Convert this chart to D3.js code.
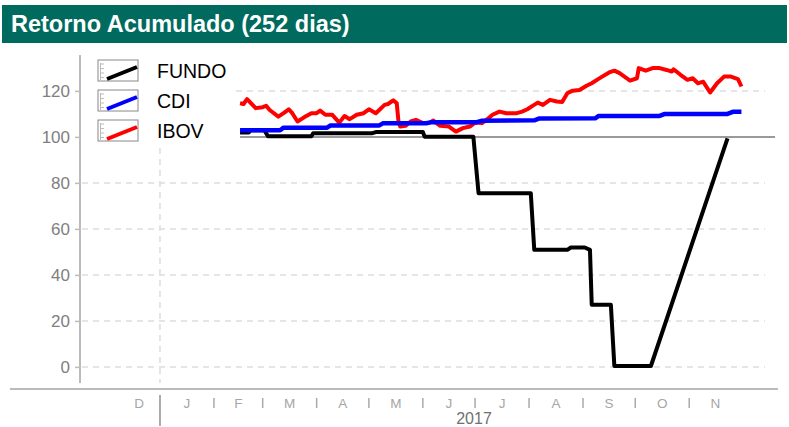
<!DOCTYPE html>
<html>
<head>
<meta charset="utf-8">
<script src="https://cdn.jsdelivr.net/npm/d3@7"></script>
<style>
  body { margin: 0; background: #fff; }
  svg { display: block; font-family: "Liberation Sans", Arial, sans-serif; }
</style>
</head>
<body>
<svg id="chart" width="789" height="427"></svg>
<script>
// Accumulated return, base 100
const fundo = [
  ["2017-02-16", 101.9], ["2017-02-21", 101.9], ["2017-02-22", 102.9], ["2017-03-02", 102.9],
  ["2017-03-04", 100.3], ["2017-03-29", 100.3], ["2017-03-30", 101.6], ["2017-05-03", 101.6],
  ["2017-05-05", 102.1], ["2017-06-01", 102.1], ["2017-06-02", 100.1], ["2017-06-30", 100.1],
  ["2017-07-03", 75.5], ["2017-08-02", 75.5], ["2017-08-04", 50.9], ["2017-08-23", 50.9],
  ["2017-08-25", 51.9], ["2017-09-02", 51.9], ["2017-09-05", 50.9], ["2017-09-06", 27.0],
  ["2017-09-17", 27.0], ["2017-09-19", 0.4], ["2017-10-10", 0.4], ["2017-11-23", 99.4]
];

const cdi = [
  ["2017-02-16", 102.9], ["2017-03-11", 102.9], ["2017-03-13", 104.0], ["2017-04-07", 104.0],
  ["2017-04-09", 105.0], ["2017-05-07", 105.0], ["2017-05-09", 105.9], ["2017-06-03", 105.9],
  ["2017-06-06", 106.4], ["2017-07-02", 106.4], ["2017-07-05", 107.0], ["2017-08-04", 107.2],
  ["2017-08-07", 108.0], ["2017-09-08", 108.1], ["2017-09-10", 109.1], ["2017-10-15", 109.1],
  ["2017-10-18", 110.0], ["2017-11-23", 110.0], ["2017-11-26", 110.9], ["2017-12-01", 110.9]
];

const ibov = [
  ["2017-02-16", 114.6], ["2017-02-18", 114.3], ["2017-02-20", 116.4], ["2017-02-25", 112.5],
  ["2017-03-01", 112.9], ["2017-03-03", 113.5], ["2017-03-05", 111.7], ["2017-03-10", 108.8],
  ["2017-03-13", 110.3], ["2017-03-16", 112.0], ["2017-03-18", 110.3], ["2017-03-21", 106.7],
  ["2017-03-25", 108.6], ["2017-03-29", 110.3], ["2017-04-01", 110.3], ["2017-04-03", 111.4],
  ["2017-04-06", 109.6], ["2017-04-10", 109.6], ["2017-04-14", 106.2], ["2017-04-17", 109.1],
  ["2017-04-20", 107.7], ["2017-04-24", 109.6], ["2017-04-28", 110.3], ["2017-05-01", 112.0],
  ["2017-05-05", 110.3], ["2017-05-10", 113.9], ["2017-05-12", 114.3], ["2017-05-15", 115.9],
  ["2017-05-17", 114.6], ["2017-05-18", 106.7], ["2017-05-19", 104.5], ["2017-05-22", 104.8],
  ["2017-05-25", 106.7], ["2017-05-28", 107.4], ["2017-06-01", 106.0], ["2017-06-05", 106.2],
  ["2017-06-07", 107.1], ["2017-06-11", 104.8], ["2017-06-16", 104.5], ["2017-06-20", 102.3],
  ["2017-06-24", 103.8], ["2017-06-28", 104.5], ["2017-07-01", 106.2], ["2017-07-05", 106.0],
  ["2017-07-08", 107.7], ["2017-07-11", 109.6], ["2017-07-15", 111.0], ["2017-07-19", 110.3],
  ["2017-07-25", 110.3], ["2017-07-28", 111.0], ["2017-07-31", 112.0], ["2017-08-03", 113.5],
  ["2017-08-06", 114.9], ["2017-08-09", 113.9], ["2017-08-13", 116.1], ["2017-08-17", 115.4],
  ["2017-08-20", 115.2], ["2017-08-23", 119.0], ["2017-08-26", 120.1], ["2017-08-30", 120.4],
  ["2017-09-03", 122.2], ["2017-09-06", 123.3], ["2017-09-09", 124.8], ["2017-09-12", 126.2],
  ["2017-09-16", 128.0], ["2017-09-19", 128.8], ["2017-09-22", 127.7], ["2017-09-28", 124.5],
  ["2017-10-02", 125.5], ["2017-10-03", 129.9], ["2017-10-07", 128.8], ["2017-10-11", 129.9],
  ["2017-10-15", 129.9], ["2017-10-19", 129.1], ["2017-10-22", 128.4], ["2017-10-23", 129.4],
  ["2017-10-27", 127.0], ["2017-10-31", 124.8], ["2017-11-03", 125.5], ["2017-11-06", 123.3],
  ["2017-11-09", 124.0], ["2017-11-13", 119.3], ["2017-11-17", 123.3], ["2017-11-21", 126.2],
  ["2017-11-25", 126.2], ["2017-11-29", 125.1], ["2017-12-01", 121.9]
];

const seriesNames = ["FUNDO", "CDI", "IBOV"];
const seriesColors = ["#000000", "#0000ff", "#ff0000"];
const yTicks = [0, 20, 40, 60, 80, 100, 120];
const monthLabels = ["D", "J", "F", "M", "A", "M", "J", "J", "A", "S", "O", "N"];
const yearLabel = "2017";
const title = "Retorno Acumulado (252 dias)";

const parse = d3.utcParse("%Y-%m-%d");
const toPoints = arr => arr.map(([d, v]) => ({ date: parse(d), value: v }));
const series = [toPoints(fundo), toPoints(cdi), toPoints(ibov)];

const svg = d3.select("#chart");

const x = d3.scaleUtc()
  .domain([new Date(Date.UTC(2016, 11, 1)), new Date(Date.UTC(2017, 11, 22))])
  .range([106, 778]);
const y = d3.scaleLinear().domain([-9.6, 135.6]).range([389, 55]);

// Title band
svg.append("rect").attr("x", 2).attr("y", 5).attr("width", 785).attr("height", 38)
  .attr("fill", "#006a5e");
svg.append("text").attr("x", 11).attr("y", 32)
  .attr("fill", "#fff").attr("font-weight", "bold").attr("font-size", 23.5)
  .text(title);

// Dashed horizontal grid
const grid = svg.append("g");
grid.selectAll("line.h").data(yTicks.filter(v => v !== 100)).join("line")
  .attr("x1", 82).attr("x2", 765)
  .attr("y1", d => y(d)).attr("y2", d => y(d))
  .attr("stroke", "#dddddd").attr("stroke-width", 1.5).attr("stroke-dasharray", "6,5");

// Year boundary dashed vertical
const yearStart = new Date(Date.UTC(2017, 0, 1));
grid.append("line")
  .attr("x1", x(yearStart)).attr("x2", x(yearStart)).attr("y1", 148).attr("y2", 383)
  .attr("stroke", "#dddddd").attr("stroke-width", 1.5).attr("stroke-dasharray", "6,5");

// Base 100 reference
const firstDate = series[0][0].date;
svg.append("line")
  .attr("x1", x(firstDate)).attr("x2", 775)
  .attr("y1", y(100)).attr("y2", y(100))
  .attr("stroke", "#9a9a9a").attr("stroke-width", 2);

// Y axis
const yAxis = svg.append("g").attr("transform", "translate(80,0)")
  .call(d3.axisLeft(y).tickValues(yTicks).tickSize(5).tickPadding(5));
yAxis.select(".domain").remove();
yAxis.selectAll(".tick line").attr("stroke", "#bbbbbb").attr("stroke-width", 1.5);
yAxis.selectAll(".tick text").attr("fill", "#808080").attr("font-size", 17)
  .attr("font-family", "'Liberation Sans', Arial, sans-serif");
svg.append("line").attr("x1", 80).attr("x2", 80).attr("y1", 55).attr("y2", 383)
  .attr("stroke", "#bbbbbb").attr("stroke-width", 2);

// Bottom axis line
svg.append("line").attr("x1", 10).attr("x2", 778).attr("y1", 389).attr("y2", 389)
  .attr("stroke", "#bbbbbb").attr("stroke-width", 2);

// Month labels and separators
const months = d3.utcMonth.range(new Date(Date.UTC(2016, 11, 1)), new Date(Date.UTC(2017, 11, 1)));
const xAxis = svg.append("g");
xAxis.selectAll("text.m").data(months).join("text")
  .attr("x", (d, i) => {
    const s = i === 0 ? new Date(Date.UTC(2016, 11, 8)) : d;
    return (x(s) + x(d3.utcMonth.offset(d, 1))) / 2;
  })
  .attr("y", 408).attr("text-anchor", "middle")
  .attr("fill", "#a6a6a6").attr("font-size", 13.5)
  .text((d, i) => monthLabels[i]);
xAxis.selectAll("line.sep").data(months.slice(2)).join("line")
  .attr("x1", d => x(d)).attr("x2", d => x(d)).attr("y1", 398).attr("y2", 408)
  .attr("stroke", "#aaaaaa").attr("stroke-width", 1.5);
xAxis.append("line")
  .attr("x1", x(yearStart)).attr("x2", x(yearStart)).attr("y1", 395).attr("y2", 426)
  .attr("stroke", "#aaaaaa").attr("stroke-width", 2);
xAxis.append("text").attr("x", 474).attr("y", 424).attr("text-anchor", "middle")
  .attr("fill", "#707070").attr("font-size", 16).text(yearLabel);

// Series
const line = d3.line().x(d => x(d.date)).y(d => y(d.value));
const drawOrder = [0, 2, 1];
const widths = [4, 4.5, 4];
svg.append("g").selectAll("path").data(drawOrder).join("path")
  .attr("d", i => line(series[i]))
  .attr("fill", "none")
  .attr("stroke", i => seriesColors[i])
  .attr("stroke-width", i => widths[i])
  .attr("stroke-linejoin", "round");

// Legend
const legend = svg.append("g");
legend.append("rect").attr("x", 82).attr("y", 52).attr("width", 153).attr("height", 94).attr("fill", "#fff");
seriesNames.forEach((name, i) => {
  const top = 60 + i * 30, left = 98, w = 40, h = 21;
  const g = legend.append("g");
  g.append("rect").attr("x", left).attr("y", top).attr("width", w).attr("height", h)
    .attr("fill", "#fff").attr("stroke", "#888").attr("stroke-width", 1);
  g.append("line").attr("x1", left + 2.5).attr("x2", left + 2.5).attr("y1", top + 3).attr("y2", top + h - 1)
    .attr("stroke", "#bbb").attr("stroke-width", 1);
  [0, 1, 2, 3].forEach(k => {
    g.append("line").attr("x1", left + 2.5).attr("x2", left + 6)
      .attr("y1", top + 4 + k * 4.5).attr("y2", top + 4 + k * 4.5)
      .attr("stroke", "#bbb").attr("stroke-width", 1);
  });
  g.append("line").attr("x1", left + 9).attr("y1", top + h - 2)
    .attr("x2", left + w - 1).attr("y2", top + 7)
    .attr("stroke", seriesColors[i]).attr("stroke-width", 4);
  g.append("text").attr("x", 157).attr("y", top + 18)
    .attr("fill", "#000").attr("font-size", 19.5).text(name);
});
</script>
</body>
</html>
